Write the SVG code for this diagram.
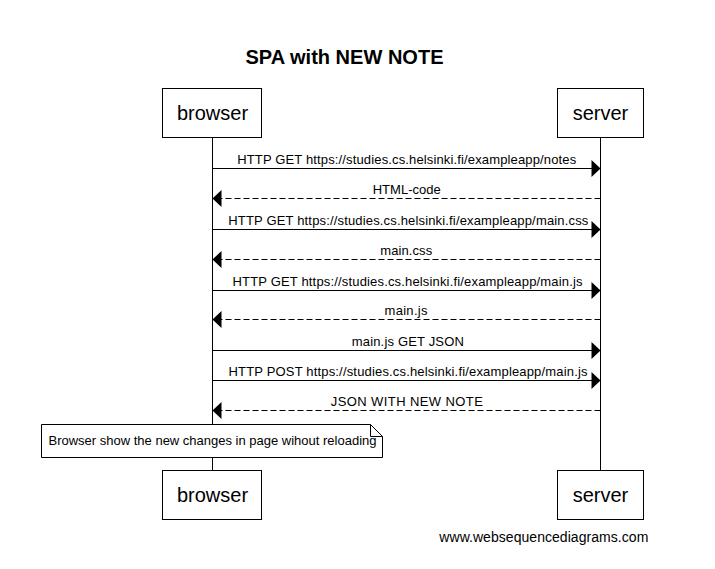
<svg xmlns="http://www.w3.org/2000/svg" width="715" height="569" viewBox="0 0 715 569">
<style>
text{font-family:"Liberation Sans",Arial,sans-serif;fill:#000}
.title{font-size:20px;font-weight:bold}
.actor{font-size:20px}
.msg{font-size:13px}
.wm{font-size:14px}
.box{fill:#fff;stroke:#000;stroke-width:1}
.life{stroke:#000;stroke-width:1}
.solid{stroke:#000;stroke-width:1;fill:none}
.dash{stroke:#000;stroke-width:1;fill:none;stroke-dasharray:6,3}
.head{fill:#000}
</style>
<rect width="715" height="569" fill="#fff"/>
<text class="title" x="344.5" y="64" text-anchor="middle" textLength="198">SPA with NEW NOTE</text>
<g id="lifelines">
<line class="life" x1="212.5" y1="137" x2="212.5" y2="471"/>
<line class="life" x1="600.5" y1="137" x2="600.5" y2="471"/>
</g>
<g id="browser-top"><rect class="box" x="162.5" y="88.5" width="99" height="49"/><text class="actor" x="212.5" y="120" text-anchor="middle">browser</text></g>
<g id="server-top"><rect class="box" x="557.5" y="88.5" width="86" height="49"/><text class="actor" x="600.5" y="120" text-anchor="middle">server</text></g>
<g id="connectors">
<line class="solid" x1="212.5" y1="168.5" x2="592" y2="168.5"/><path class="head" d="M600.5,168.5 L591.5,160 L591.5,177 Z"/>
<text class="msg" x="406.7" y="163.5" text-anchor="middle" textLength="339">HTTP GET https://studies.cs.helsinki.fi/exampleapp/notes</text>
<line class="dash" x1="600.5" y1="198.5" x2="221" y2="198.5"/><path class="head" d="M212.5,198.5 L221.5,190 L221.5,207 Z"/>
<text class="msg" x="406.7" y="193.5" text-anchor="middle" textLength="68">HTML-code</text>
<line class="solid" x1="212.5" y1="229.5" x2="592" y2="229.5"/><path class="head" d="M600.5,229.5 L591.5,221 L591.5,238 Z"/>
<text class="msg" x="408.3" y="224.5" text-anchor="middle" textLength="360">HTTP GET https://studies.cs.helsinki.fi/exampleapp/main.css</text>
<line class="dash" x1="600.5" y1="259.5" x2="221" y2="259.5"/><path class="head" d="M212.5,259.5 L221.5,251 L221.5,268 Z"/>
<text class="msg" x="406.2" y="254.5" text-anchor="middle" textLength="52">main.css</text>
<line class="solid" x1="212.5" y1="290.5" x2="592" y2="290.5"/><path class="head" d="M600.5,290.5 L591.5,282 L591.5,299 Z"/>
<text class="msg" x="407.5" y="285.5" text-anchor="middle" textLength="350">HTTP GET https://studies.cs.helsinki.fi/exampleapp/main.js</text>
<line class="dash" x1="600.5" y1="319.5" x2="221" y2="319.5"/><path class="head" d="M212.5,319.5 L221.5,311 L221.5,328 Z"/>
<text class="msg" x="406" y="314.5" text-anchor="middle" textLength="43">main.js</text>
<line class="solid" x1="212.5" y1="350.5" x2="592" y2="350.5"/><path class="head" d="M600.5,350.5 L591.5,342 L591.5,359 Z"/>
<text class="msg" x="407.8" y="345.5" text-anchor="middle" textLength="112">main.js GET JSON</text>
<line class="solid" x1="212.5" y1="380.5" x2="592" y2="380.5"/><path class="head" d="M600.5,380.5 L591.5,372 L591.5,389 Z"/>
<text class="msg" x="408" y="375.5" text-anchor="middle" textLength="359">HTTP POST https://studies.cs.helsinki.fi/exampleapp/main.js</text>
<line class="dash" x1="600.5" y1="410.5" x2="221" y2="410.5"/><path class="head" d="M212.5,410.5 L221.5,402 L221.5,419 Z"/>
<text class="msg" x="406.8" y="405.5" text-anchor="middle" textLength="152">JSON WITH NEW NOTE</text>
</g>
<g id="note">
<path class="box" d="M41.5,424.5 L370.5,424.5 L382.5,436.5 L382.5,457.5 L41.5,457.5 Z"/>
<path class="solid" d="M370.5,424.5 L370.5,436.5 L382.5,436.5"/>
<text class="msg" x="212.5" y="445" text-anchor="middle" textLength="328">Browser show the new changes in page wihout reloading</text>
</g>
<g id="browser-bottom"><rect class="box" x="162.5" y="470.5" width="99" height="49"/><text class="actor" x="212.5" y="502" text-anchor="middle">browser</text></g>
<g id="server-bottom"><rect class="box" x="557.5" y="470.5" width="86" height="49"/><text class="actor" x="600.5" y="502" text-anchor="middle">server</text></g>
<text class="wm" x="543.8" y="542" text-anchor="middle" textLength="209">www.websequencediagrams.com</text>
</svg>
